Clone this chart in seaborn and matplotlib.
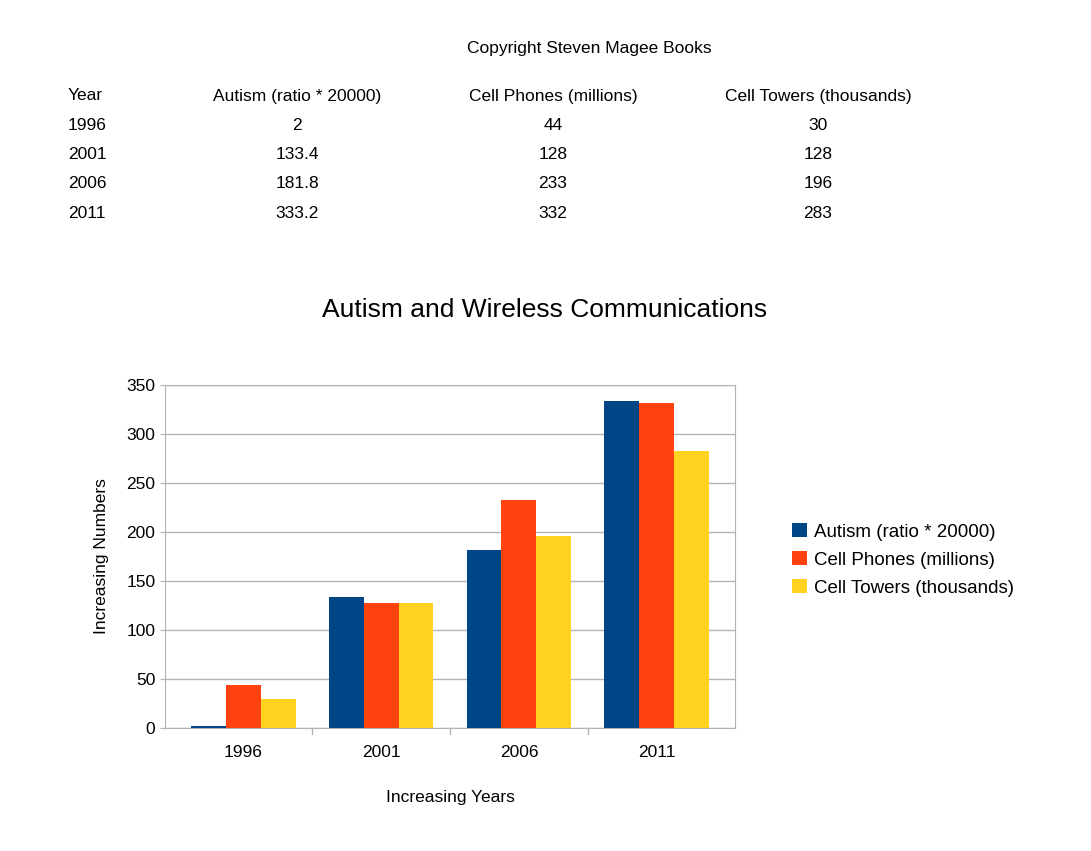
import matplotlib
matplotlib.use("Agg")
import matplotlib.pyplot as plt
import seaborn as sns
import pandas as pd

years = ["1996", "2001", "2006", "2011"]
series = ["Autism (ratio * 20000)", "Cell Phones (millions)", "Cell Towers (thousands)"]
autism = [2, 133.4, 181.8, 333.2]
phones = [44, 128, 233, 332]
towers = [30, 128, 196, 283]
autism_txt = ["2", "133.4", "181.8", "333.2"]
colors = ["#004586", "#ff420e", "#ffd320"]

df = pd.DataFrame({
    "Year": years * 3,
    "Series": [series[0]] * 4 + [series[1]] * 4 + [series[2]] * 4,
    "Value": autism + phones + towers,
})

plt.rcParams["font.family"] = "Liberation Sans"
fig = plt.figure(figsize=(10.91, 8.51), dpi=100)

def fx(x): return x / 1091
def fy(y): return 1 - y / 851
fs = 12.5
fig.text(fx(589), fy(48), "Copyright Steven Magee Books", ha="center", va="center", fontsize=fs)
fig.text(fx(68), fy(96), "Year", ha="left", va="center", fontsize=fs)
for cx, s in zip([297, 553, 818], series):
    fig.text(fx(cx), fy(96), s, ha="center", va="center", fontsize=fs)
for i, y in enumerate(years):
    ry = fy(125 + i * 29.5)
    fig.text(fx(68), ry, y, ha="left", va="center", fontsize=fs)
    fig.text(fx(297), ry, autism_txt[i], ha="center", va="center", fontsize=fs)
    fig.text(fx(553), ry, str(phones[i]), ha="center", va="center", fontsize=fs)
    fig.text(fx(818), ry, str(towers[i]), ha="center", va="center", fontsize=fs)

fig.text(fx(545), fy(310), "Autism and Wireless Communications", ha="center", va="center", fontsize=19)

ax = fig.add_axes([165 / 1091, 1 - 728 / 851, 570 / 1091, (728 - 385) / 851])
sns.barplot(data=df, x="Year", y="Value", hue="Series", palette=colors, width=0.76,
            saturation=1, ax=ax, zorder=3, legend=True)
ax.set_ylim(0, 350)
ax.set_yticks(range(0, 351, 50))
ax.yaxis.grid(True, color="#b3b3b3", linewidth=1, zorder=0)
ax.set_axisbelow(True)
for sp in ax.spines.values():
    sp.set_color("#b3b3b3")
ax.tick_params(axis="both", colors="#b3b3b3", labelcolor="black", labelsize=12.5)
ax.tick_params(axis="x", length=0, pad=12)
for xb in [0.5, 1.5, 2.5]:
    ax.plot([xb, xb], [0, -6], color="#b3b3b3", clip_on=False, lw=1, transform=ax.transData)
ax.set_xlabel("Increasing Years", fontsize=12.5, labelpad=22)
ax.set_ylabel("Increasing Numbers", fontsize=12.5, labelpad=12)
ax.legend(loc="center left", bbox_to_anchor=(1.07, 0.49), frameon=False, fontsize=13.5,
          handlelength=0.8, handleheight=0.8, handletextpad=0.4, labelspacing=0.55)

fig.savefig("out.png", dpi=100)
